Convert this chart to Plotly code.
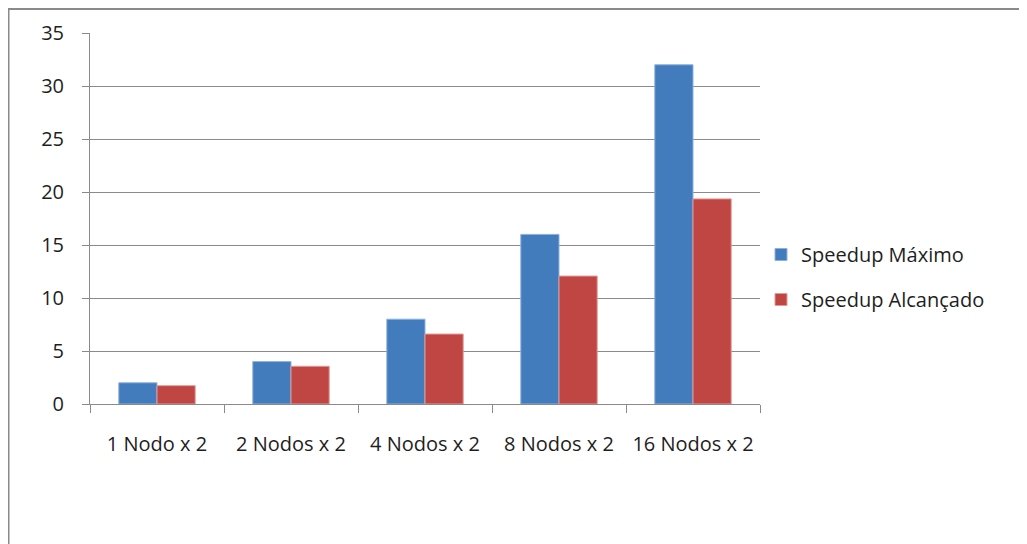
import plotly.graph_objects as go

categories = ["1 Nodo x 2", "2 Nodos x 2", "4 Nodos x 2", "8 Nodos x 2", "16 Nodos x 2"]
speedup_maximo = [2, 4, 8, 16, 32]
speedup_alcancado = [1.73, 3.56, 6.6, 12.07, 19.35]
series_names = ["Speedup Máximo", "Speedup Alcançado"]
y_ticks = [0, 5, 10, 15, 20, 25, 30, 35]

# page body has an 8px margin; figure coordinates are screen minus 8
OFF = 8
W, H = 1027 - OFF, 544 - OFF
L, R, T, B = 90 - OFF, 267, 33 - OFF, 140
pw, ph = W - L - R, H - T - B

def px(x):
    return (x - OFF - L) / pw

def py(y):
    return (H - B - (y - OFF)) / ph

fig = go.Figure()
fig.add_trace(go.Bar(x=categories, y=speedup_maximo, name=series_names[0],
                     marker=dict(color="#427CBD", line=dict(color="#8DB0DD", width=1)),
                     legendgroup="a"))
fig.add_trace(go.Bar(x=categories, y=speedup_alcancado, name=series_names[1],
                     marker=dict(color="#BF4643", line=dict(color="#E09C9A", width=1)),
                     legendgroup="b"))

fig.update_layout(
    width=W, height=H,
    margin=dict(l=L, r=R, t=T, b=B),
    paper_bgcolor="white", plot_bgcolor="white",
    barmode="group", bargap=0.43, bargroupgap=0,
    font=dict(family="Open Sans", size=20, color="#1E1E1E"),
    legend=dict(x=px(761), y=py(277), xanchor="left", yanchor="middle",
                tracegroupgap=16, traceorder="grouped",
                font=dict(size=20, color="#1E1E1E"), itemwidth=30),
    showlegend=True,
    shapes=[dict(type="rect", xref="paper", yref="paper",
                 x0=px(8.5), x1=px(1100), y0=py(9), y1=py(700),
                 line=dict(color="#8A8A8A", width=2), fillcolor="rgba(0,0,0,0)", layer="below")],
    xaxis=dict(showgrid=False, showline=True, linecolor="#8A8A8A", linewidth=1,
               ticks="outside", tickson="boundaries", ticklen=8, tickcolor="#8A8A8A",
               ticklabelstandoff=22, tickfont=dict(size=20)),
    yaxis=dict(range=[0, 35], tickvals=y_ticks, showgrid=True, gridcolor="#8A8A8A", gridwidth=1,
               showline=True, linecolor="#8A8A8A", linewidth=1, zeroline=False,
               ticks="outside", ticklen=7, tickcolor="#8A8A8A", ticklabelstandoff=14,
               tickfont=dict(size=20)),
)

fig.write_html("out.html")
